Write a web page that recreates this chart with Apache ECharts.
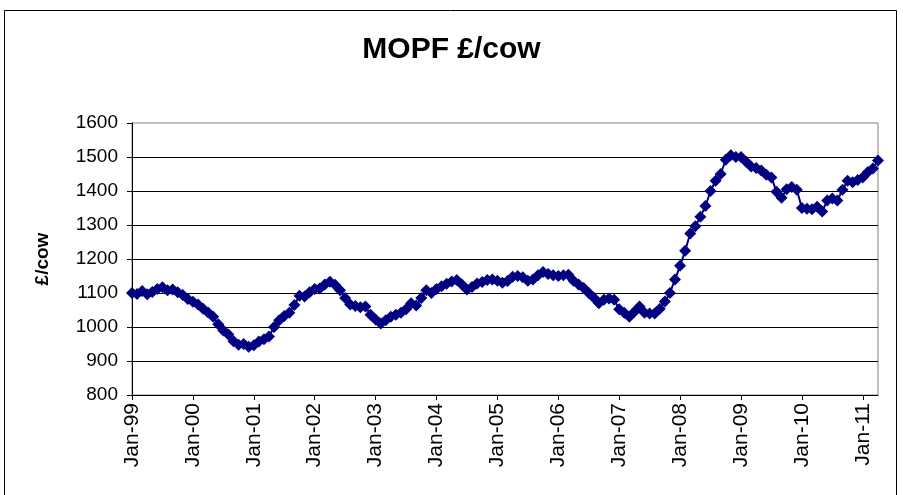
<!DOCTYPE html>
<html><head><meta charset="utf-8">
<script src="https://cdn.jsdelivr.net/npm/echarts@6/dist/echarts.min.js"></script>
<style>html,body{margin:0;padding:0;background:#fff}#c{width:903px;height:495px}</style>
</head><body><div id="c"></div>
<script>
// Monthly values, Jan-1999 .. Apr-2011 (£/cow)
const y1999 = [1100,1097,1106,1096,1103,1112,1117,1108,1110,1102,1094,1082];
const y2000 = [1074,1066,1054,1043,1030,1008,990,978,958,948,950,942];
const y2001 = [946,957,964,972,1000,1020,1032,1042,1065,1092,1090,1102];
const y2002 = [1112,1113,1125,1133,1124,1108,1085,1066,1062,1058,1060,1036];
const y2003 = [1022,1010,1020,1030,1036,1042,1052,1070,1063,1085,1108,1100];
const y2004 = [1112,1120,1127,1134,1138,1125,1110,1118,1128,1132,1138,1140];
const y2005 = [1136,1130,1135,1148,1150,1146,1136,1140,1152,1162,1156,1152];
const y2006 = [1150,1152,1154,1136,1125,1115,1100,1086,1070,1080,1084,1080];
const y2007 = [1052,1042,1030,1045,1060,1042,1040,1040,1054,1075,1100,1140];
const y2008 = [1180,1224,1275,1296,1324,1356,1400,1430,1450,1492,1505,1500];
const y2009 = [1500,1486,1472,1468,1460,1448,1440,1398,1380,1405,1412,1404];
const y2010 = [1350,1348,1346,1354,1340,1372,1378,1372,1404,1430,1426,1432];
const y2011 = [1440,1456,1466,1490];
const values = [].concat(y1999,y2000,y2001,y2002,y2003,y2004,y2005,y2006,y2007,y2008,y2009,y2010,y2011);
const tickLabels = ['Jan-99','Jan-00','Jan-01','Jan-02','Jan-03','Jan-04','Jan-05','Jan-06','Jan-07','Jan-08','Jan-09','Jan-10','Jan-11'];
const titleText = 'MOPF £/cow';
const yName = '£/cow';

const FONT = 'Liberation Sans, Arial, sans-serif';
const chart = echarts.init(document.getElementById('c'), null, {renderer: 'canvas'});
chart.setOption({
  animation: false,
  backgroundColor: '#fff',
  title: {
    text: titleText, left: 'center', top: 30,
    textStyle: {fontFamily: FONT, fontSize: 30, fontWeight: 'bold', color: '#000'}
  },
  graphic: [{
    type: 'rect', shape: {x: 4.5, y: 10.5, width: 892, height: 492},
    style: {fill: 'none', stroke: '#000', lineWidth: 1}, z: -1
  }],
  grid: {left: 132, right: 25, top: 123, bottom: 100, show: true, borderColor: '#808080', borderWidth: 1},
  xAxis: {
    type: 'value', min: 0, max: values.length - 1, interval: 12,
    axisLine: {show: true, lineStyle: {color: '#000', width: 1}},
    axisTick: {show: true, length: 5, lineStyle: {color: '#000'}},
    splitLine: {show: false},
    axisLabel: {
      rotate: 90, margin: 8, color: '#000', fontFamily: FONT, fontSize: 21, showMaxLabel: false,
      formatter: v => (v % 12 === 0 ? (tickLabels[v / 12] || '') : '')
    }
  },
  yAxis: {
    type: 'value', min: 800, max: 1600, interval: 100,
    name: yName, nameLocation: 'middle', nameGap: 80, nameRotate: 90,
    nameTextStyle: {fontFamily: FONT, fontSize: 19, fontWeight: 'bold', color: '#000'},
    axisLine: {show: true, lineStyle: {color: '#000', width: 1}},
    axisTick: {show: true, length: 5, lineStyle: {color: '#000'}},
    splitLine: {show: true, showMaxLine: false, lineStyle: {color: '#000', width: 1}},
    axisLabel: {color: '#000', fontFamily: FONT, fontSize: 19, margin: 14, formatter: v => String(v)}
  },
  series: [{
    type: 'line',
    data: values.map((v, i) => [i, v]),
    symbol: 'diamond', symbolSize: 12,
    itemStyle: {color: '#000080'},
    lineStyle: {color: '#000080', width: 2}
  }]
});
</script></body></html>
